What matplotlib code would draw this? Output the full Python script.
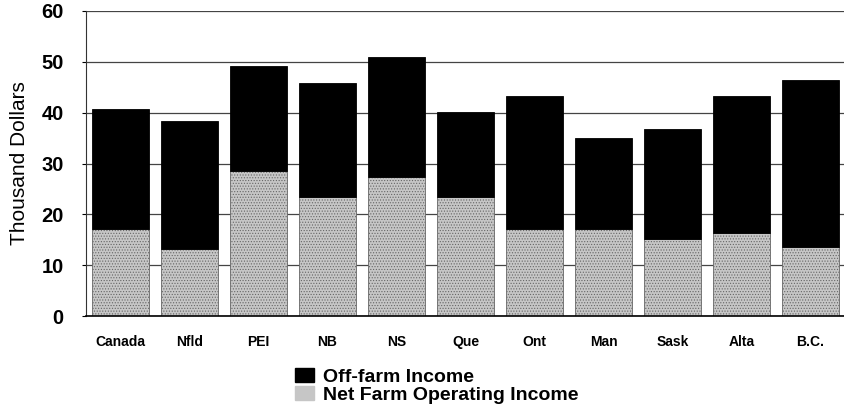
import numpy as np
import matplotlib.pyplot as plt
from matplotlib.patches import Patch

plt.rcParams['font.family'] = ['Liberation Sans', 'DejaVu Sans']
plt.rcParams['hatch.linewidth'] = 0.5

# values (thousand dollars)
regions = ['Canada', 'Nfld', 'PEI', 'NB', 'NS', 'Que', 'Ont', 'Man', 'Sask', 'Alta', 'B.C.']
net_farm = [17.1, 13.2, 28.5, 23.5, 27.3, 23.5, 17.1, 17.1, 15.2, 16.3, 13.6]
total = [40.7, 38.4, 49.2, 45.9, 51.0, 40.2, 43.3, 35.0, 36.8, 43.3, 46.5]
off_farm = [t - n for t, n in zip(total, net_farm)]

fig = plt.figure(figsize=(8.45, 4.18), dpi=100)
ax = fig.add_axes([86 / 845, 1 - 316 / 418, 1 - 86 / 845, 305 / 418])

x = np.arange(len(regions))
w = 0.84
ax.bar(x, net_farm, w, color='#c6c6c6', edgecolor='#666666', hatch='......',
       linewidth=0.6, zorder=2)
ax.bar(x, off_farm, w, bottom=net_farm, color='black', edgecolor='black',
       linewidth=0.6, zorder=2)

ax.set_xlim(-0.5, len(regions) - 0.5)
ax.set_ylim(0, 60)
ax.set_yticks(range(0, 61, 10))
ax.set_xticks(x)
ax.set_xticklabels(regions, fontsize=10, fontweight='bold')
for lab in ax.get_yticklabels():
    lab.set_fontsize(14.5)
    lab.set_fontweight('bold')
ax.tick_params(axis='y', length=3, pad=13, width=0.8)
ax.tick_params(axis='x', length=0, pad=14)

ax.yaxis.grid(True, color='#444444', linewidth=0.9, zorder=0)
ax.set_axisbelow(True)
ax.spines['right'].set_visible(False)
ax.spines['top'].set_visible(False)
ax.spines['left'].set_color('#333333')
ax.spines['bottom'].set_linewidth(1.2)

ax.set_ylabel('Thousand Dollars', fontsize=15, labelpad=9)

handles = [Patch(facecolor='black', edgecolor='black'),
           Patch(facecolor='#c6c6c6', edgecolor='#c6c6c6', hatch='......')]
fig.legend(handles, ['Off-farm Income', 'Net Farm Operating Income'],
           loc='upper left', bbox_to_anchor=(285 / 845, 1 - 358 / 418),
           frameon=False, prop={'size': 14, 'weight': 'bold'},
           handlelength=1.0, handleheight=0.75, handletextpad=0.45,
           labelspacing=0.02, borderpad=0)

fig.savefig('out.png', dpi=100)
